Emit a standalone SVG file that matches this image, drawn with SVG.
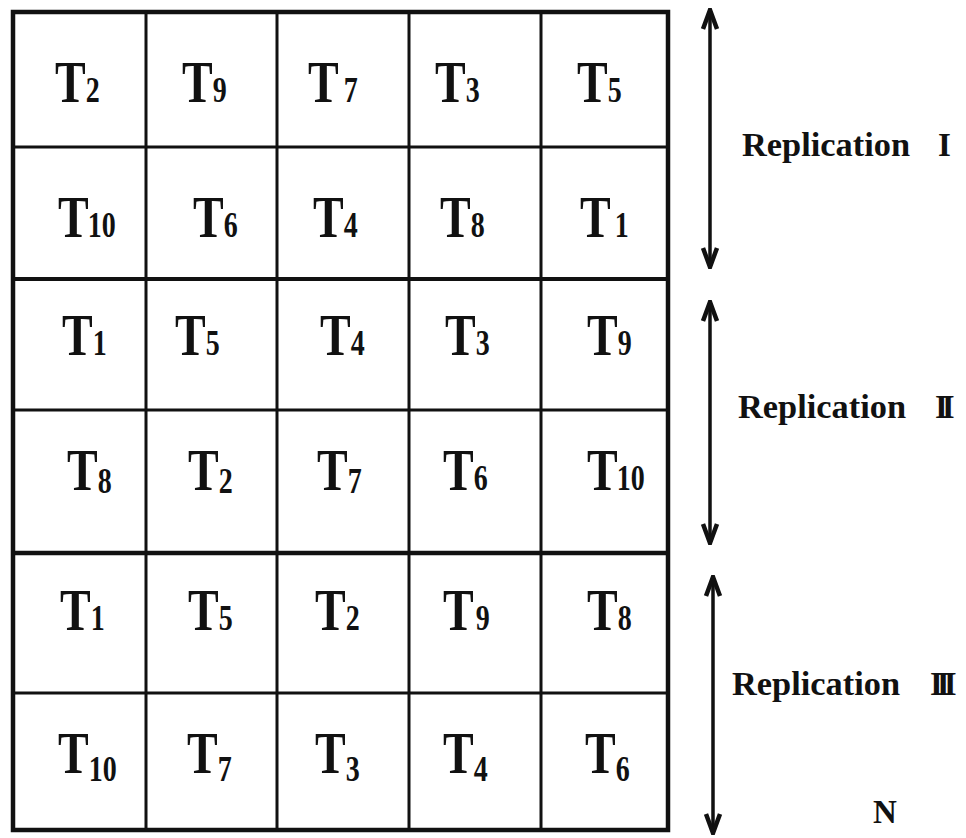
<svg xmlns="http://www.w3.org/2000/svg" width="966" height="838" viewBox="0 0 966 838">
<style>
.t{font-family:"Liberation Serif","Times New Roman",serif;font-weight:bold;font-size:46px;fill:#111}
.s{font-size:28px}
.lbl{font-family:"Liberation Serif","Times New Roman",serif;font-weight:bold;font-size:33px;fill:#111}
.rn{letter-spacing:-6px}
.g{stroke:#111;fill:none}
.arr{stroke:#111;stroke-width:3.5;fill:none}
</style>
<defs>
<marker id="ah" viewBox="-22 -10 24 20" refX="0" refY="0" markerWidth="24" markerHeight="20" markerUnits="userSpaceOnUse" orient="auto-start-reverse">
<path d="M-19,-7 L0,0 L-19,7" fill="none" stroke="#111" stroke-width="4.5" stroke-linejoin="miter"/>
</marker>
</defs>
<rect width="966" height="838" fill="#fff"/>
<g id="grid">
<rect class="g" x="13" y="12" width="655" height="818" stroke-width="4.5"/>
<line class="g" x1="146" y1="12" x2="146" y2="830" stroke-width="3"/>
<line class="g" x1="277" y1="12" x2="277" y2="830" stroke-width="3"/>
<line class="g" x1="409" y1="12" x2="409" y2="830" stroke-width="3"/>
<line class="g" x1="541" y1="12" x2="541" y2="830" stroke-width="3"/>
<line class="g" x1="13" y1="147" x2="668" y2="147" stroke-width="3"/>
<line class="g" x1="13" y1="279" x2="668" y2="279" stroke-width="4"/>
<line class="g" x1="13" y1="410" x2="668" y2="410" stroke-width="3"/>
<line class="g" x1="13" y1="553" x2="668" y2="553" stroke-width="4.5"/>
<line class="g" x1="13" y1="693" x2="668" y2="693" stroke-width="3"/>
</g>
<g id="cells">
<g id="r1">
<text class="t" transform="translate(55,102) scale(1,1.3)">T<tspan class="s">2</tspan></text>
<text class="t" transform="translate(182,102) scale(1,1.3)">T<tspan class="s">9</tspan></text>
<text class="t" transform="translate(308,102) scale(1,1.3)">T<tspan class="s" dx="5">7</tspan></text>
<text class="t" transform="translate(435,102) scale(1,1.3)">T<tspan class="s">3</tspan></text>
<text class="t" transform="translate(577,102) scale(1,1.3)">T<tspan class="s">5</tspan></text>
</g>
<g id="r2">
<text class="t" transform="translate(58,237) scale(1,1.3)">T<tspan class="s" dx="-1">10</tspan></text>
<text class="t" transform="translate(193,237) scale(1,1.3)">T<tspan class="s">6</tspan></text>
<text class="t" transform="translate(313,237) scale(1,1.3)">T<tspan class="s">4</tspan></text>
<text class="t" transform="translate(440,237) scale(1,1.3)">T<tspan class="s">8</tspan></text>
<text class="t" transform="translate(580,237) scale(1,1.3)">T<tspan class="s" dx="4">1</tspan></text>
</g>
<g id="r3">
<text class="t" transform="translate(62,355) scale(1,1.3)">T<tspan class="s">1</tspan></text>
<text class="t" transform="translate(175,355) scale(1,1.3)">T<tspan class="s">5</tspan></text>
<text class="t" transform="translate(320,355) scale(1,1.3)">T<tspan class="s">4</tspan></text>
<text class="t" transform="translate(445,355) scale(1,1.3)">T<tspan class="s">3</tspan></text>
<text class="t" transform="translate(587,355) scale(1,1.3)">T<tspan class="s">9</tspan></text>
</g>
<g id="r4">
<text class="t" transform="translate(67,490) scale(1,1.3)">T<tspan class="s" dy="2">8</tspan></text>
<text class="t" transform="translate(188,490) scale(1,1.3)">T<tspan class="s" dy="2">2</tspan></text>
<text class="t" transform="translate(317,490) scale(1,1.3)">T<tspan class="s" dy="2">7</tspan></text>
<text class="t" transform="translate(443,490) scale(1,1.3)">T<tspan class="s">6</tspan></text>
<text class="t" transform="translate(587,490) scale(1,1.3)">T<tspan class="s" dx="-1">10</tspan></text>
</g>
<g id="r5">
<text class="t" transform="translate(60,630) scale(1,1.3)">T<tspan class="s">1</tspan></text>
<text class="t" transform="translate(188,630) scale(1,1.3)">T<tspan class="s">5</tspan></text>
<text class="t" transform="translate(315,630) scale(1,1.3)">T<tspan class="s">2</tspan></text>
<text class="t" transform="translate(443,630) scale(1,1.3)">T<tspan class="s" dx="2">9</tspan></text>
<text class="t" transform="translate(587,630) scale(1,1.3)">T<tspan class="s">8</tspan></text>
</g>
<g id="r6">
<text class="t" transform="translate(58,773) scale(1,1.3)">T<tspan class="s" dy="6">10</tspan></text>
<text class="t" transform="translate(187,773) scale(1,1.3)">T<tspan class="s" dy="6">7</tspan></text>
<text class="t" transform="translate(315,773) scale(1,1.3)">T<tspan class="s" dy="6">3</tspan></text>
<text class="t" transform="translate(443,773) scale(1,1.3)">T<tspan class="s" dy="6">4</tspan></text>
<text class="t" transform="translate(585,773) scale(1,1.3)">T<tspan class="s" dy="6">6</tspan></text>
</g>
</g>
<g id="connectors">
<line class="arr" x1="710" y1="10" x2="710" y2="267" marker-start="url(#ah)" marker-end="url(#ah)"/>
<line class="arr" x1="710" y1="302" x2="710" y2="543" marker-start="url(#ah)" marker-end="url(#ah)"/>
<line class="arr" x1="713" y1="577" x2="713" y2="833" marker-start="url(#ah)" marker-end="url(#ah)"/>
</g>
<g id="labels">
<g id="rep1"><text class="lbl" x="742" y="156" textLength="168" lengthAdjust="spacingAndGlyphs">Replication</text><text class="lbl" x="938" y="156">I</text></g>
<g id="rep2"><text class="lbl" x="738" y="418" textLength="168" lengthAdjust="spacingAndGlyphs">Replication</text><text class="lbl rn" x="935" y="418">II</text></g>
<g id="rep3"><text class="lbl" x="732" y="695" textLength="168" lengthAdjust="spacingAndGlyphs">Replication</text><text class="lbl rn" x="930" y="695">III</text></g>
<g id="north"><text class="lbl" x="873" y="823" font-size="30">N</text></g>
</g>
</svg>
